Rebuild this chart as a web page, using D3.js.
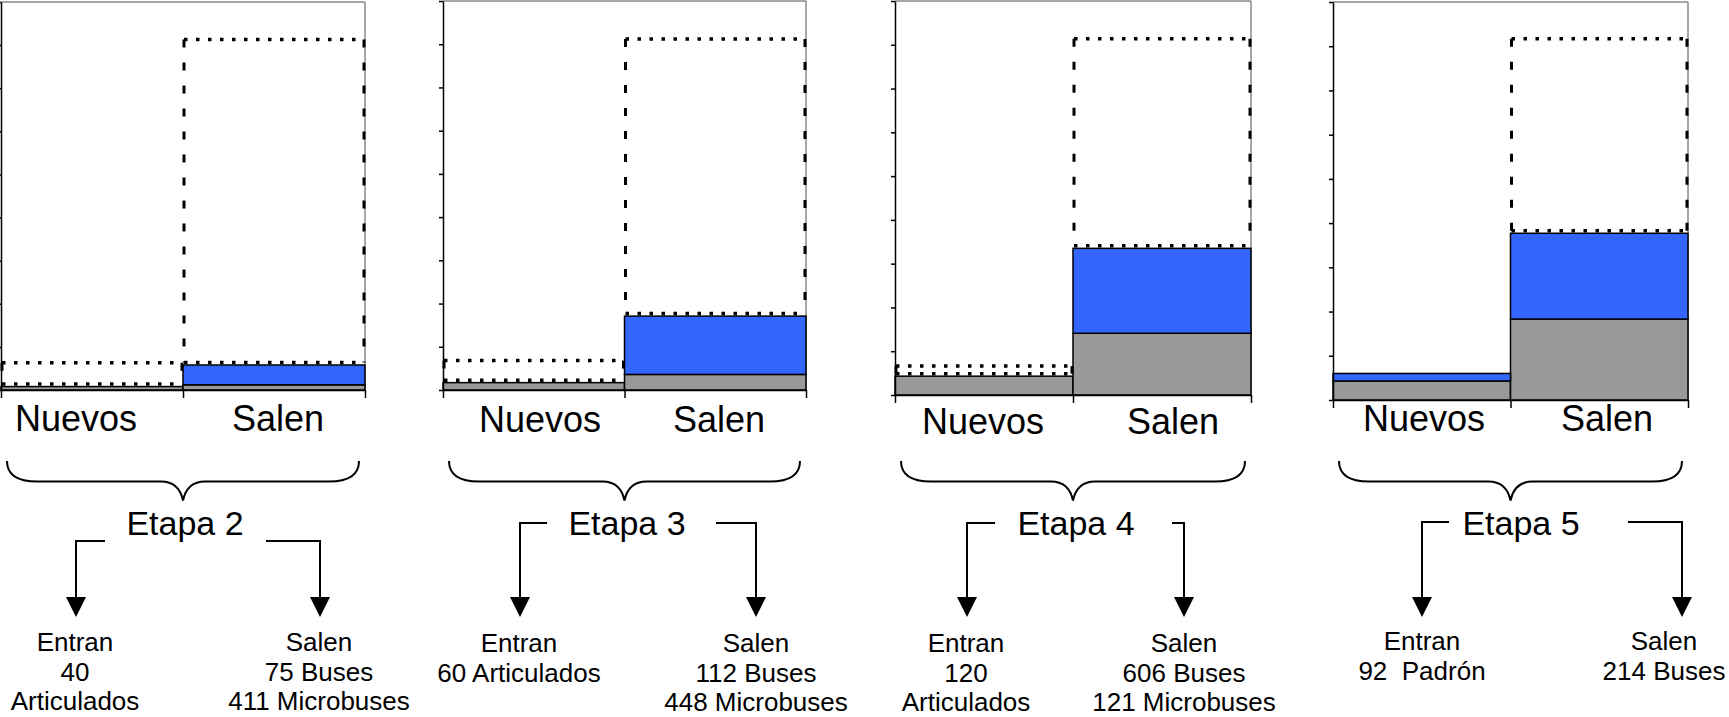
<!DOCTYPE html>
<html>
<head>
<meta charset="utf-8">
<script src="https://cdn.jsdelivr.net/npm/d3@7"></script>
<style>
  html, body { margin: 0; padding: 0; background: #fff; overflow: hidden; }
  svg { display: block; font-family: "Liberation Sans", Arial, sans-serif; }
  text { white-space: pre; }
</style>
</head>
<body>
<svg id="chart" width="1729" height="717"></svg>
<script>
// etapas y categorias
var stages = ["Etapa 2", "Etapa 3", "Etapa 4", "Etapa 5"];
var categories = ["Nuevos", "Salen"];

// series apiladas (gris abajo, azul al medio, punteado arriba) por etapa: [Nuevos, Salen]
var grayVals   = [[8, 12], [17, 36], [43, 141], [43, 183]];
var blueVals   = [[0, 46], [0, 135], [0, 194], [17, 194]];
var dashedVals = [[55, 755], [51, 641], [23, 479], [0, 440]];

var yTicks = d3.range(0, 901, 100);

// textos de abajo
var entranText = [["Entran", "40", "Articulados"], ["Entran", "60 Articulados"], ["Entran", "120", "Articulados"], ["Entran", "92  Padrón"]];
var salenText  = [["Salen", "75 Buses", "411 Microbuses"], ["Salen", "112 Buses", "448 Microbuses"], ["Salen", "606 Buses", "121 Microbuses"], ["Salen", "214 Buses"]];

// layout de cada panel
var panels = [
  {left: 1,    right: 365,  top: 2, bottom: 390, lblX: [76, 278],   lblY: 431, etX: 185,  arrowY: 541, inL: 105,  outL: 76,   inR: 266,  outR: 320,  txL: 75,   txR: 319,  txtY: 651},
  {left: 443,  right: 806,  top: 1, bottom: 390, lblX: [540, 719],  lblY: 432, etX: 627,  arrowY: 523, inL: 547,  outL: 520,  inR: 716,  outR: 756,  txL: 519,  txR: 756,  txtY: 652},
  {left: 895,  right: 1251, top: 1, bottom: 395, lblX: [983, 1173], lblY: 434, etX: 1076, arrowY: 523, inL: 995,  outL: 967,  inR: 1172, outR: 1184, txL: 966,  txR: 1184, txtY: 652},
  {left: 1333, right: 1688, top: 2, bottom: 400, lblX: [1424, 1607],lblY: 431, etX: 1521, arrowY: 522, inL: 1449, outL: 1422, inR: 1628, outR: 1682, txL: 1422, txR: 1664, txtY: 650}
];

var svg = d3.select("#chart");
var blue = "#3366ff", gray = "#999999";

stages.forEach(function(stage, i) {
  var p = panels[i];
  var g = svg.append("g");

  var x = d3.scaleBand().domain(categories).range([p.left, p.right]).padding(0);
  var y = d3.scaleLinear().domain([0, 900]).range([p.bottom, p.top]);

  var rows = categories.map(function(c, j) {
    return {cat: c, gray: grayVals[i][j], blue: blueVals[i][j], dashed: dashedVals[i][j]};
  });
  var stacked = d3.stack().keys(["gray", "blue", "dashed"])(rows);

  // borde superior y derecho
  g.append("line").attr("x1", p.left).attr("x2", p.right).attr("y1", p.top).attr("y2", p.top)
    .attr("stroke", "#888").attr("stroke-width", 1.5);
  g.append("line").attr("x1", p.right).attr("x2", p.right).attr("y1", p.top).attr("y2", p.bottom)
    .attr("stroke", "#888").attr("stroke-width", 1.5);

  // gris y azul
  [["gray", gray], ["blue", blue]].forEach(function(s, k) {
    g.selectAll(".b" + k).data(stacked[k]).enter().append("rect")
      .attr("x", function(d) { return x(d.data.cat); })
      .attr("width", x.bandwidth())
      .attr("y", function(d) { return y(d[1]); })
      .attr("height", function(d) { return y(d[0]) - y(d[1]); })
      .attr("fill", s[1])
      .attr("stroke", function(d) { return d[1] > d[0] ? "#000" : "none"; })
      .attr("stroke-width", 1.5);
  });

  // serie punteada: bordes con guiones
  stacked[2].forEach(function(d) {
    if (d[1] <= d[0]) return;
    var x0 = x(d.data.cat) + 1, x1 = x(d.data.cat) + x.bandwidth() - 1;
    var yt = y(d[1]), yb = y(d[0]) - 2.5;
    [[x0, yt, x1, yt], [x0, yb, x1, yb]].forEach(function(l) {
      g.append("line").attr("x1", l[0]).attr("y1", l[1]).attr("x2", l[2]).attr("y2", l[3])
        .attr("stroke", "#000").attr("stroke-width", 3.5).attr("stroke-dasharray", "3.5,8.5");
    });
    [[x0, yt, x0, yb], [x1, yt, x1, yb]].forEach(function(l) {
      g.append("line").attr("x1", l[0]).attr("y1", l[1]).attr("x2", l[2]).attr("y2", l[3])
        .attr("stroke", "#000").attr("stroke-width", 3).attr("stroke-dasharray", "8,15");
    });
  });

  // ejes
  g.append("g").attr("transform", "translate(" + p.left + ",0)")
    .call(d3.axisLeft(y).tickValues(yTicks).tickSize(4).tickSizeOuter(0).tickFormat(""))
    .call(function(a) { a.selectAll("line,path").attr("stroke", "#000").attr("stroke-width", 1.5); });

  var xe = d3.scaleLinear().domain([0, 2]).range([p.left, p.right]);
  g.append("g").attr("transform", "translate(0," + p.bottom + ")")
    .call(d3.axisBottom(xe).tickValues([0, 1, 2]).tickSize(8).tickSizeOuter(0).tickFormat(""))
    .call(function(a) { a.selectAll("line,path").attr("stroke", "#000").attr("stroke-width", 1.5); });

  // etiquetas de categoria
  g.selectAll(".cl").data(categories).enter().append("text")
    .attr("x", function(c, j) { return p.lblX[j]; })
    .attr("y", p.lblY)
    .attr("text-anchor", "middle").attr("font-size", 36).text(function(c) { return c; });

  // llave
  var bx0 = p.left + 6, bx1 = p.right - 6, bm = x("Salen"), yT = 461, yH = 481.5, yP = 500.5;
  var br = d3.path();
  br.moveTo(bx0, yT);
  br.quadraticCurveTo(bx0, yH, bx0 + 30, yH);
  br.lineTo(bm - 22, yH);
  br.quadraticCurveTo(bm - 4, yH, bm, yP);
  br.quadraticCurveTo(bm + 4, yH, bm + 22, yH);
  br.lineTo(bx1 - 30, yH);
  br.quadraticCurveTo(bx1, yH, bx1, yT);
  g.append("path").attr("d", br.toString()).attr("fill", "none").attr("stroke", "#000").attr("stroke-width", 2);

  // titulo de etapa
  g.append("text").attr("x", p.etX).attr("y", 535).attr("text-anchor", "middle")
    .attr("font-size", 34).text(stage);

  // flechas
  [[p.inL, p.outL], [p.inR, p.outR]].forEach(function(a) {
    g.append("path").attr("d", d3.line()([[a[0], p.arrowY], [a[1], p.arrowY], [a[1], 598]]))
      .attr("fill", "none").attr("stroke", "#000").attr("stroke-width", 2);
    g.append("path").attr("d", d3.line()([[a[1] - 10, 597], [a[1] + 10, 597], [a[1], 617]]) + "Z")
      .attr("fill", "#000");
  });

  // textos de abajo
  [[p.txL, entranText[i]], [p.txR, salenText[i]]].forEach(function(t) {
    var tx = g.append("text").attr("text-anchor", "middle").attr("font-size", 26);
    tx.selectAll("tspan").data(t[1]).enter().append("tspan")
      .attr("x", t[0]).attr("y", function(d, k) { return p.txtY + k * 29.5; })
      .text(function(d) { return d; });
  });
});
</script>
</body>
</html>
